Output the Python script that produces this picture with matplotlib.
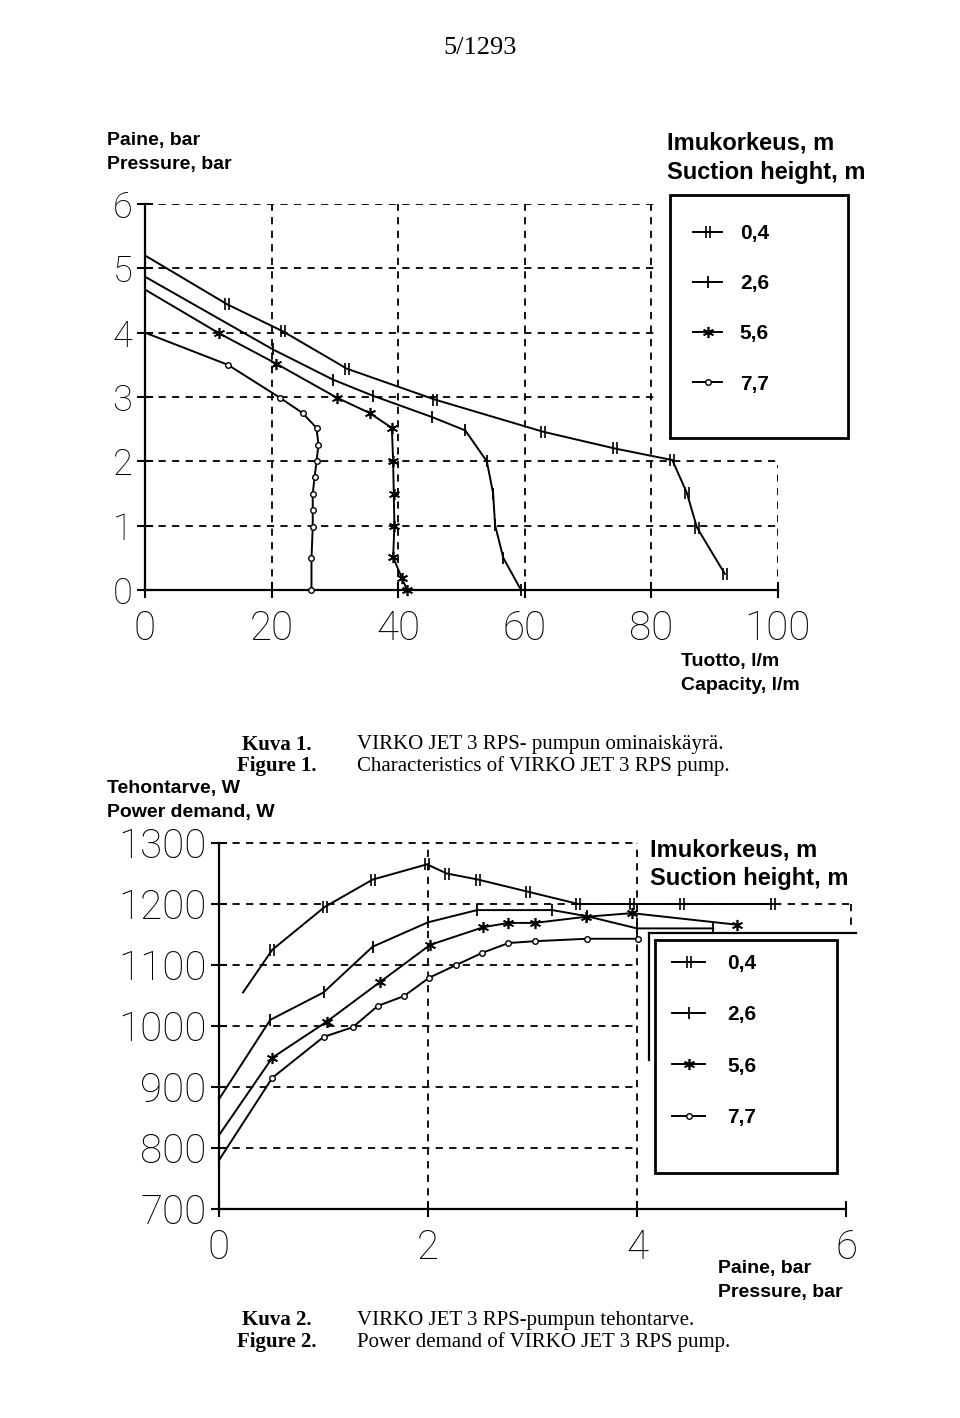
import matplotlib
matplotlib.use("Agg")
import matplotlib.pyplot as plt
from matplotlib.patches import Rectangle
from matplotlib.lines import Line2D
from matplotlib.path import Path

# Suction heights (legend)
suction = ["0,4", "2,6", "5,6", "7,7"]

# Figure 1: capacity (l/m) vs pressure (bar)
cap_04 = [0, 13, 21.8, 31.9, 45.8, 62.9, 74.2, 83.3, 85.6, 87.2, 91.6]
pres_04 = [5.2, 4.44, 4.02, 3.44, 2.96, 2.46, 2.2, 2.02, 1.51, 0.97, 0.25]
cap_26 = [0, 20.2, 29.7, 36, 45.3, 50.6, 54, 55, 55.3, 56.6, 59.4]
pres_26 = [4.87, 3.74, 3.27, 3.02, 2.69, 2.48, 2.0, 1.5, 1.01, 0.5, 0.0]
cap_56 = [0, 11.7, 20.7, 30.3, 35.5, 39, 39.2, 39.3, 39.4, 39.2, 40.6, 41.4]
pres_56 = [4.67, 3.99, 3.52, 2.99, 2.75, 2.52, 2.0, 1.5, 1.0, 0.51, 0.18, 0.0]
cap_77 = [0, 13.1, 21.3, 24.9, 27.1, 27.4, 27.1, 26.8, 26.5, 26.5, 26.5, 26.3, 26.3]
pres_77 = [4.0, 3.5, 2.99, 2.75, 2.52, 2.26, 2.0, 1.76, 1.5, 1.25, 0.98, 0.5, 0.0]

# Figure 2: pressure (bar) vs power demand (W)
p_04 = [0.23, 0.51, 1.01, 1.47, 1.99, 2.18, 2.48, 2.96, 3.44, 3.95, 4.43, 5.3]
w_04 = [1055, 1125, 1195, 1240, 1265, 1250, 1240, 1220, 1200, 1200, 1200, 1200]
p_26 = [0, 0.49, 1.0, 1.47, 2.0, 2.47, 3.19, 3.52, 4.0, 4.73]
w_26 = [880, 1010, 1055, 1130, 1170, 1190, 1190, 1180, 1160, 1160]
p_56 = [0, 0.51, 1.03, 1.54, 2.02, 2.53, 2.77, 3.02, 3.51, 3.95, 4.96]
w_56 = [821, 948, 1007, 1072, 1133, 1162, 1169, 1169, 1179, 1185, 1166]
p_77 = [0, 0.51, 1.0, 1.28, 1.52, 1.77, 2.01, 2.27, 2.52, 2.77, 3.02, 3.52, 4.01]
w_77 = [780, 915, 982, 998, 1033, 1049, 1079, 1100, 1120, 1136, 1139, 1143, 1143]

cap_ticks = [0, 20, 40, 60, 80, 100]
pres_ticks = [0, 1, 2, 3, 4, 5, 6]
w_ticks = [700, 800, 900, 1000, 1100, 1200, 1300]
p_ticks = [0, 2, 4, 6]

W, H = 960, 1418
fig = plt.figure(figsize=(W / 100, H / 100), dpi=100)
fig.patch.set_facecolor("white")

SANS = ["Liberation Sans", "DejaVu Sans"]
SERIF = ["Liberation Serif", "DejaVu Serif"]
LIGHT = ["Roboto", "DejaVu Sans"]


def ft(x, y, s, **kw):
    kw.setdefault("va", "center")
    fig.text(x / W, 1 - y / H, s, **kw)


def frac_box(x0, y0, x1, y1):
    return [x0 / W, 1 - y1 / H, (x1 - x0) / W, (y1 - y0) / H]


# double tick marker for 0,4
dbl = Path([(-0.35, -1), (-0.35, 1), (0.35, -1), (0.35, 1)],
           [Path.MOVETO, Path.LINETO, Path.MOVETO, Path.LINETO])

styles = [
    dict(marker=dbl, ms=8, mew=1.2),
    dict(marker="|", ms=9, mew=1.3),
    dict(marker=(6, 2, 0), ms=8, mew=1.2),
    dict(marker="o", ms=4, mfc="white", mew=1.0),
]
dash = (0, (4, 3.5))


def style_axes(ax, ysize):
    for s in ["top", "right"]:
        ax.spines[s].set_visible(False)
    for s in ["left", "bottom"]:
        ax.spines[s].set_linewidth(1.6)
    ax.tick_params(direction="inout", length=12, width=1.5, pad=3)
    ax.tick_params(axis="x", pad=8, labelsize=29)
    ax.tick_params(axis="y", labelsize=ysize)
    for lab in ax.get_xticklabels() + ax.get_yticklabels():
        lab.set_family(LIGHT)
        lab.set_fontweight("light")


# ---------------- Figure 1 ----------------
ax1 = fig.add_axes(frac_box(145, 204, 778, 590))
ax1.set_xlim(0, 100)
ax1.set_ylim(0, 6)
ax1.set_xticks(cap_ticks)
ax1.set_yticks(pres_ticks)
style_axes(ax1, 26)

for yv, xe in zip(pres_ticks[1:], [100, 100, 81, 81, 81, 81]):
    ax1.plot([0, xe], [yv, yv], ls=dash, color="k", lw=1.3, zorder=1)
for xv, ye in zip(cap_ticks[1:], [6, 6, 6, 6, 1.95]):
    ax1.plot([xv, xv], [0, ye], ls=dash, color="k", lw=1.3, zorder=1)

handles = []
for xs, ys, st, lab in zip([cap_04, cap_26, cap_56, cap_77],
                           [pres_04, pres_26, pres_56, pres_77], styles, suction):
    ln, = ax1.plot(xs, ys, color="k", lw=1.4, markevery=slice(1, None),
                   clip_on=False, zorder=3, label=lab, **st)
    handles.append(ln)

fig.add_artist(Rectangle((670 / W, 1 - 438 / H), 178 / W, 243 / H,
                         transform=fig.transFigure, fc="white", ec="k", lw=2, zorder=4))
fig.legend(handles=handles, loc="upper left", bbox_to_anchor=(693 / W, 1 - 224 / H),
           frameon=False, borderpad=0, borderaxespad=0, handlelength=1.4,
           handletextpad=0.85, labelspacing=1.5,
           prop=dict(family=SANS, size=15, weight="bold"))

ft(107, 140, "Paine, bar", family=SANS, weight="bold", size=14)
ft(107, 165, "Pressure, bar", family=SANS, weight="bold", size=14)
ft(667, 143, "Imukorkeus, m", family=SANS, weight="bold", size=17)
ft(667, 172, "Suction height, m", family=SANS, weight="bold", size=17)
ft(681, 662, "Tuotto, l/m", family=SANS, weight="bold", size=14)
ft(681, 686, "Capacity, l/m", family=SANS, weight="bold", size=14)

ft(480, 48, "5/1293", family=SERIF, size=19, ha="center")
ft(242, 745, "Kuva 1.", family=SERIF, weight="bold", size=15)
ft(237, 766, "Figure 1.", family=SERIF, weight="bold", size=15)
ft(357, 745, "VIRKO JET 3 RPS- pumpun ominaiskäyrä.", family=SERIF, size=15)
ft(357, 766, "Characteristics of VIRKO JET 3 RPS pump.", family=SERIF, size=15)

# ---------------- Figure 2 ----------------
ax2 = fig.add_axes(frac_box(219, 843, 846, 1209))
ax2.set_xlim(0, 6)
ax2.set_ylim(700, 1300)
ax2.set_xticks(p_ticks)
ax2.set_yticks(w_ticks)
style_axes(ax2, 29)

for yv in w_ticks[1:]:
    xe = 6.05 if yv == 1200 else 4
    ax2.plot([0, xe], [yv, yv], ls=dash, color="k", lw=1.3, zorder=1, clip_on=False)
for xv in p_ticks[1:3]:
    ax2.plot([xv, xv], [700, 1300], ls=dash, color="k", lw=1.3, zorder=1)
ax2.plot([6.05, 6.05], [1200, 1165], ls=dash, color="k", lw=1.3, zorder=1, clip_on=False)

handles2 = []
for xs, ys, st, lab in zip([p_04, p_26, p_56, p_77],
                           [w_04, w_26, w_56, w_77], styles, suction):
    ln, = ax2.plot(xs, ys, color="k", lw=1.4, markevery=slice(1, None),
                   clip_on=False, zorder=3, label=lab, **st)
    handles2.append(ln)

# odd double frame of the legend box
fig.add_artist(Line2D([649 / W, 856 / W], [1 - 933 / H, 1 - 933 / H],
                      transform=fig.transFigure, color="k", lw=1.6, zorder=4))
fig.add_artist(Line2D([649 / W, 649 / W], [1 - 933 / H, 1 - 1060 / H],
                      transform=fig.transFigure, color="k", lw=1.6, zorder=4))
fig.add_artist(Rectangle((655 / W, 1 - 1173 / H), 182 / W, 233 / H,
                         transform=fig.transFigure, fc="white", ec="k", lw=2, zorder=4))
fig.legend(handles=handles2, loc="upper left", bbox_to_anchor=(672 / W, 1 - 954 / H),
           frameon=False, borderpad=0, borderaxespad=0, handlelength=1.6,
           handletextpad=1.05, labelspacing=1.55,
           prop=dict(family=SANS, size=15, weight="bold"))

ft(650, 850, "Imukorkeus, m", family=SANS, weight="bold", size=17)
ft(650, 878, "Suction height, m", family=SANS, weight="bold", size=17)
ft(107, 789, "Tehontarve, W", family=SANS, weight="bold", size=14)
ft(107, 812, "Power demand, W", family=SANS, weight="bold", size=14)
ft(718, 1268, "Paine, bar", family=SANS, weight="bold", size=14)
ft(718, 1293, "Pressure, bar", family=SANS, weight="bold", size=14)

ft(242, 1320, "Kuva 2.", family=SERIF, weight="bold", size=15)
ft(237, 1342, "Figure 2.", family=SERIF, weight="bold", size=15)
ft(357, 1320, "VIRKO JET 3 RPS-pumpun tehontarve.", family=SERIF, size=15)
ft(357, 1342, "Power demand of VIRKO JET 3 RPS pump.", family=SERIF, size=15)

fig.savefig("out.png", dpi=100)
